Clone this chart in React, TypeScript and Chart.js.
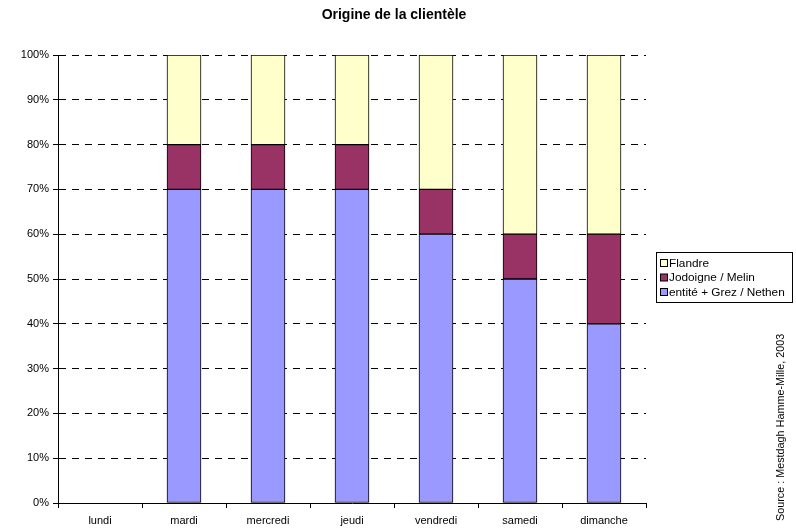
import React, { useEffect, useRef } from "react";
import { Chart, registerables } from "chart.js";

Chart.register(...registerables);

const days = ["lundi", "mardi", "mercredi", "jeudi", "vendredi", "samedi", "dimanche"];
// Share of customers (%) per day, by origin
const entite = [null, 70, 70, 70, 60, 50, 40];
const jodoigne = [null, 10, 10, 10, 10, 10, 20];
const flandre = [null, 20, 20, 20, 30, 40, 40];
const yTicks = [0, 10, 20, 30, 40, 50, 60, 70, 80, 90, 100];

const chartTitle = "Origine de la clientèle";
const sourceNote = "Source : Mestdagh Hamme-Mille, 2003";

const FONT = "'Liberation Sans', Arial, sans-serif";

const decorations = {
  id: "decorations",
  afterDraw(chart: any) {
    const { ctx } = chart;
    ctx.save();
    // title
    ctx.fillStyle = "#000";
    ctx.font = `bold 14px ${FONT}`;
    ctx.textAlign = "center";
    ctx.textBaseline = "middle";
    ctx.fillText(chartTitle, 394, 15);

    // legend box (series listed top to bottom in reverse stack order)
    const lx = 656.5, ly = 252.5, lw = 136, lh = 50;
    ctx.fillStyle = "#fff";
    ctx.fillRect(lx, ly, lw, lh);
    ctx.strokeStyle = "#000";
    ctx.lineWidth = 1;
    ctx.strokeRect(lx, ly, lw, lh);
    const sets = chart.data.datasets.slice().reverse();
    ctx.font = `11.8px ${FONT}`;
    ctx.textAlign = "left";
    sets.forEach((ds: any, i: number) => {
      const cy = 263 + i * 14.5;
      ctx.fillStyle = ds.backgroundColor;
      ctx.fillRect(660.5, cy - 3.5, 7, 7);
      ctx.strokeStyle = "#000";
      ctx.strokeRect(660.5, cy - 3.5, 7, 7);
      ctx.fillStyle = "#000";
      ctx.fillText(ds.label, 669, cy + 0.5);
    });

    // source note, rotated
    ctx.translate(781, 521);
    ctx.rotate(-Math.PI / 2);
    ctx.font = `10.8px ${FONT}`;
    ctx.textAlign = "left";
    ctx.textBaseline = "middle";
    ctx.fillStyle = "#000";
    ctx.fillText(sourceNote, 0, 0);
    ctx.restore();
  },
};

export default function App() {
  const ref = useRef<HTMLCanvasElement>(null);

  useEffect(() => {
    if (!ref.current) return;
    const common = {
      borderColor: "#000",
      borderWidth: 1,
      borderSkipped: false,
      categoryPercentage: 1,
      barThickness: 34,
    };
    const chart = new Chart(ref.current, {
      type: "bar",
      data: {
        labels: days,
        datasets: [
          { label: "entité + Grez / Nethen", data: entite, backgroundColor: "#9999FF", ...common },
          { label: "Jodoigne / Melin", data: jodoigne, backgroundColor: "#993366", ...common },
          { label: "Flandre", data: flandre, backgroundColor: "#FFFFCC", ...common },
        ],
      } as any,
      options: {
        animation: false,
        responsive: false,
        maintainAspectRatio: false,
        layout: { padding: { top: 55, right: 150, left: 0, bottom: 0 } },
        plugins: {
          legend: { display: false },
          title: { display: false },
          tooltip: { enabled: false },
        },
        scales: {
          x: {
            stacked: true,
            grid: {
              offset: true,
              drawOnChartArea: false,
              drawTicks: true,
              tickLength: 5,
              color: "#000",
            },
            border: { display: true, color: "#000", width: 1 },
            ticks: { color: "#000", font: { family: FONT, size: 11 }, padding: 6, maxRotation: 0 },
            afterFit(scale: any) {
              scale.height = 25;
            },
          },
          y: {
            stacked: true,
            min: 0,
            max: 100,
            afterBuildTicks(scale: any) {
              scale.ticks = yTicks.map((v) => ({ value: v }));
            },
            grid: {
              color: "#000",
              lineWidth: 1,
              tickLength: 5,
              tickColor: "#000",
            },
            border: { display: true, color: "#000", width: 1, dash: [7, 6] },
            ticks: {
              color: "#000",
              font: { family: FONT, size: 11 },
              padding: 4,
              callback: (v: any) => `${v}%`,
            },
            afterFit(scale: any) {
              scale.width = 58;
            },
          },
        },
      } as any,
      plugins: [decorations],
    });
    return () => chart.destroy();
  }, []);

  return (
    <div style={{ position: "fixed", left: 0, top: 0, width: 796, height: 528, background: "#fff" }}>
      <canvas ref={ref} width={796} height={528} style={{ width: 796, height: 528 }} />
    </div>
  );
}
